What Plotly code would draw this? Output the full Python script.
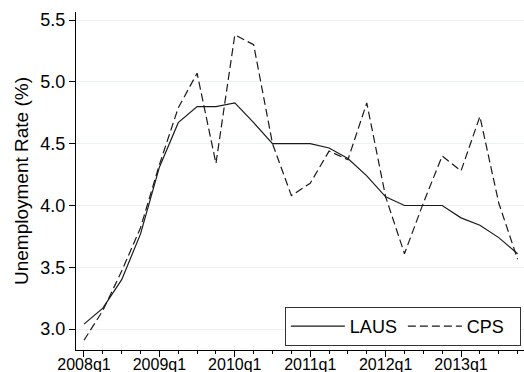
import plotly.graph_objects as go

# Quarterly unemployment rate, 2008q1 - 2013q4
quarters = [f"{y}q{q}" for y in range(2008, 2014) for q in range(1, 5)]
laus = [3.04, 3.17, 3.40, 3.77, 4.31, 4.67, 4.80, 4.80,
        4.83, 4.67, 4.50, 4.50, 4.50, 4.465, 4.38, 4.24,
        4.07, 4.00, 4.00, 4.00, 3.90, 3.84, 3.74, 3.61]
cps = [2.91, 3.15, 3.47, 3.82, 4.33, 4.79, 5.07, 4.34,
       5.38, 5.30, 4.50, 4.08, 4.18, 4.44, 4.37, 4.83,
       4.07, 3.61, 4.02, 4.40, 4.28, 4.72, 4.02, 3.565]

year_ticks = [q for q in quarters if q.endswith("q1")]
y_ticks = [3.0, 3.5, 4.0, 4.5, 5.0, 5.5]

idx = list(range(len(quarters)))
major_idx = [quarters.index(q) for q in year_ticks]

FONT = "Liberation Sans, Arial, sans-serif"

fig = go.Figure()
fig.add_trace(go.Scatter(x=idx, y=laus, mode="lines", name="LAUS",
                         line=dict(color="#1a1a1a", width=1.2)))
fig.add_trace(go.Scatter(x=idx, y=cps, mode="lines", name="CPS",
                         line=dict(color="#1a1a1a", width=1.2, dash="8px,4px")))

fig.update_layout(
    width=524, height=372,
    margin=dict(l=76, r=0, t=12, b=22),
    paper_bgcolor="white", plot_bgcolor="white",
    font=dict(family=FONT, color="#000000"),
    showlegend=True,
    legend=dict(
        orientation="h", x=0.993, xanchor="right", y=0.012, yanchor="bottom",
        bordercolor="#333333", borderwidth=1, bgcolor="white",
        font=dict(size=18, family=FONT), itemwidth=54, entrywidth=48,
        tracegroupgap=0,
    ),
)

fig.update_xaxes(
    range=[-0.424, 23.34], tickmode="array", tickvals=major_idx, ticktext=year_ticks,
    ticks="outside", ticklen=6, tickcolor="#000", showline=True, linecolor="#000",
    linewidth=1, showgrid=False, zeroline=False, automargin=False,
    tickfont=dict(size=16, family=FONT), ticklabelstandoff=-6,
    minor=dict(tickvals=idx, ticks="outside", ticklen=3, tickcolor="#000", showgrid=False),
)
fig.update_yaxes(
    range=[2.831, 5.565], tickmode="array", tickvals=y_ticks,
    ticktext=[f"{v:.1f}" for v in y_ticks],
    ticks="outside", ticklen=6, tickcolor="#000", showline=True, linecolor="#000",
    linewidth=1, showgrid=True, gridcolor="#eaf2f3", gridwidth=1, zeroline=False,
    automargin=False,
    tickfont=dict(size=18, family=FONT),
    title=dict(text="Unemployment Rate (%)", font=dict(size=19, family=FONT), standoff=6),
)

fig.write_html("out.html")
